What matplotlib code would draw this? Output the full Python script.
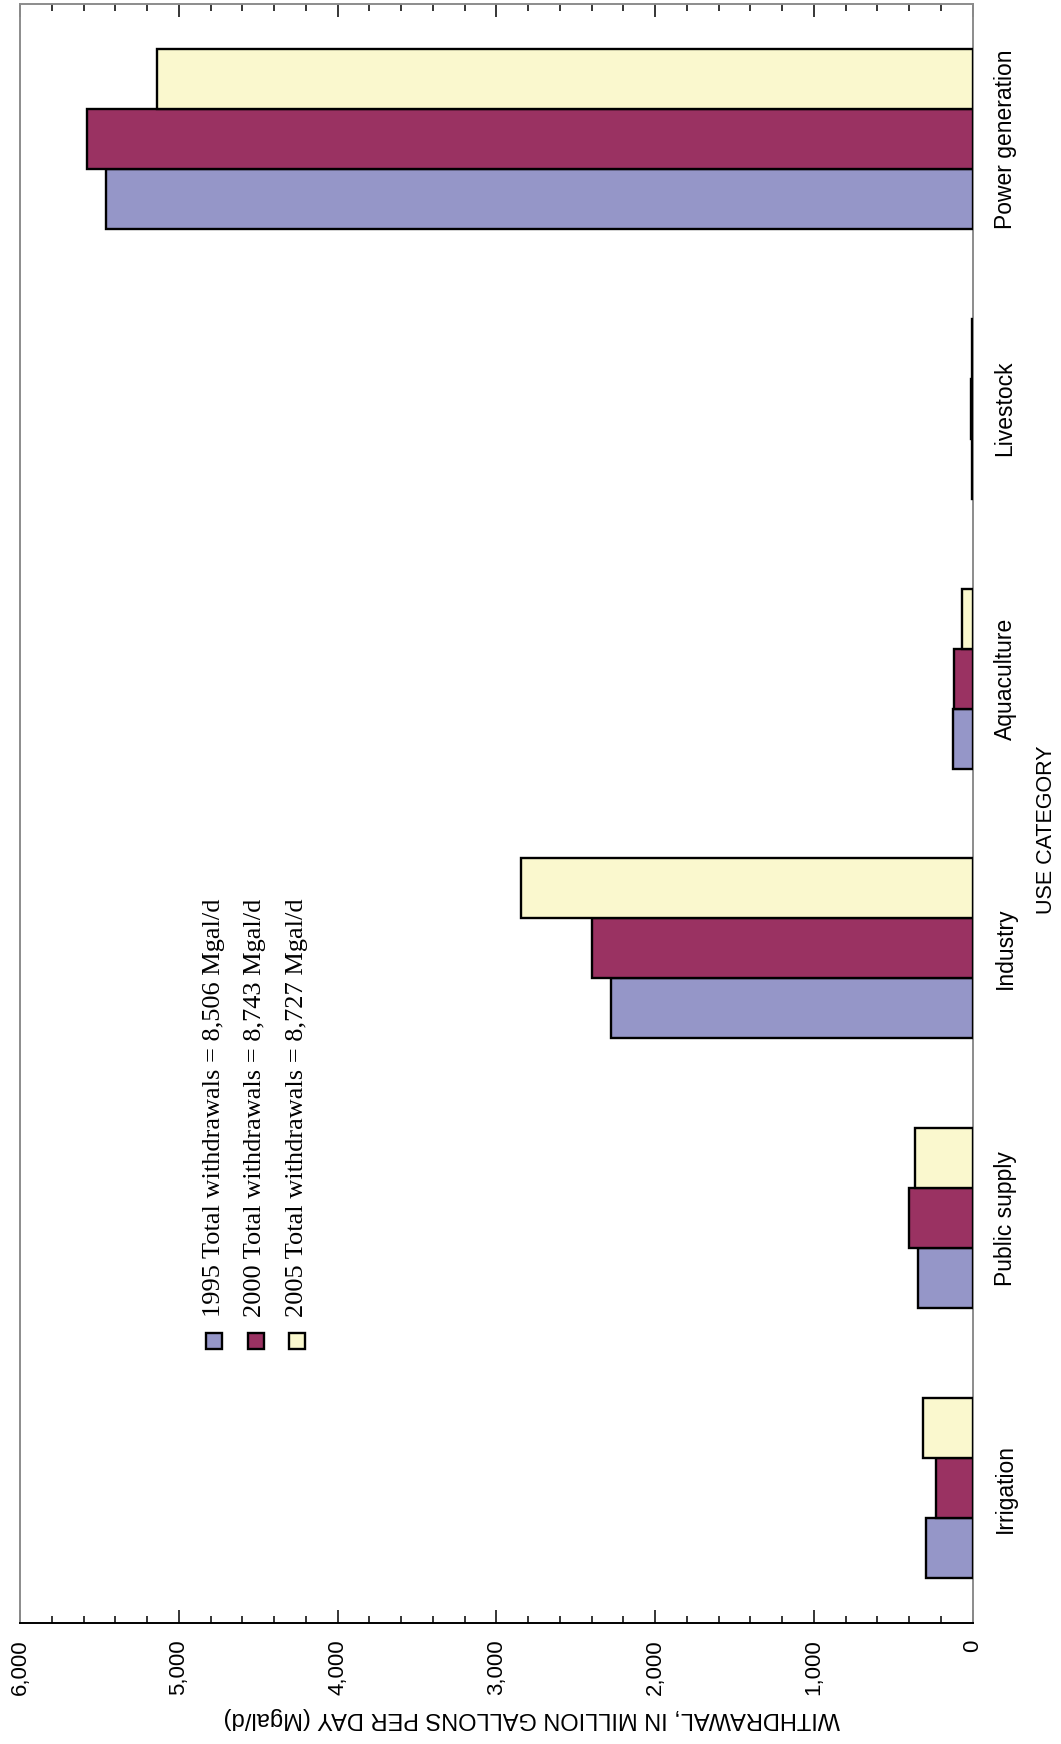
import numpy as np
import matplotlib
matplotlib.use("Agg")
from matplotlib import pyplot as plt
from matplotlib.ticker import MultipleLocator
from matplotlib.patches import Rectangle

categories = ["Irrigation", "Public supply", "Industry", "Aquaculture", "Livestock", "Power generation"]
w1995 = [296, 342, 2280, 126, 5, 5458]
w2000 = [233, 401, 2400, 116, 12, 5580]
w2005 = [311, 363, 2845, 67, 4, 5137]
legend_labels = ["1995 Total withdrawals = 8,506 Mgal/d",
                 "2000 Total withdrawals = 8,743 Mgal/d",
                 "2005 Total withdrawals = 8,727 Mgal/d"]
x_ticks = [0, 1000, 2000, 3000, 4000, 5000, 6000]
x_tick_labels = ["0", "1,000", "2,000", "3,000", "4,000", "5,000", "6,000"]

colors = ["#9596c8", "#9a3262", "#faf8ce"]
sans = ["Liberation Sans Narrow", "Liberation Sans", "DejaVu Sans"]
serif = ["Liberation Serif", "DejaVu Serif"]

W, H = 1061, 1744
fig = plt.figure(figsize=(W / 100, H / 100), dpi=100)
ax = fig.add_axes([20 / W, (H - 1623) / H, 952.7 / W, 1619 / H])

y = np.arange(len(categories))
h = 2 / 9
for vals, off, c in zip([w1995, w2000, w2005], [-h, 0, h], colors):
    ax.barh(y + off, vals, height=h, color=c, edgecolor="black", linewidth=1.7, zorder=3)

ax.set_xlim(6000, 0)
ax.set_ylim(-0.5, 5.5)

# value axis (bottom) and its ticks
ax.set_xticks(x_ticks)
ax.set_xticklabels(x_tick_labels, rotation=90, family=sans, fontsize=16)
ax.xaxis.set_minor_locator(MultipleLocator(200))
ax.tick_params(axis="x", which="major", direction="in", length=9.5, width=1.1,
               top=True, bottom=True, pad=12)
ax.tick_params(axis="x", which="minor", direction="in", length=5, width=1.1,
               top=True, bottom=True)

# category labels on the right
ax.yaxis.tick_right()
ax.set_yticks(y)
ax.set_yticklabels(categories, rotation=90, va="center", family=sans, fontsize=16.5)
ax.tick_params(axis="y", length=0, pad=15)

for s in ["left", "right", "top"]:
    ax.spines[s].set_color("#8c8c8c")
    ax.spines[s].set_linewidth(1.4)
ax.spines["bottom"].set_color("black")
ax.spines["bottom"].set_linewidth(1.4)

fig.text(532 / W, 1 - 1718 / H, "WITHDRAWAL, IN MILLION GALLONS PER DAY (Mgal/d)",
         rotation=180, ha="center", va="center", family=sans, fontsize=17)
fig.text(1046 / W, 1 - 830 / H, "USE CATEGORY", rotation=90,
         ha="center", va="center", family=sans, fontsize=15.5)

# legend drawn by hand since the text runs vertically
for i, (lab, c) in enumerate(zip(legend_labels, colors)):
    xc = 214 + i * 41.5
    fig.patches.append(Rectangle(((xc - 8) / W, 1 - 1349 / H), 16 / W, 16 / H,
                                 transform=fig.transFigure, facecolor=c,
                                 edgecolor="black", linewidth=1.7))
    fig.text(xc / W, 1 - 1317 / H, lab, rotation=90, ha="center", va="bottom",
             family=serif, fontsize=19)

fig.savefig("out.png", dpi=100)
